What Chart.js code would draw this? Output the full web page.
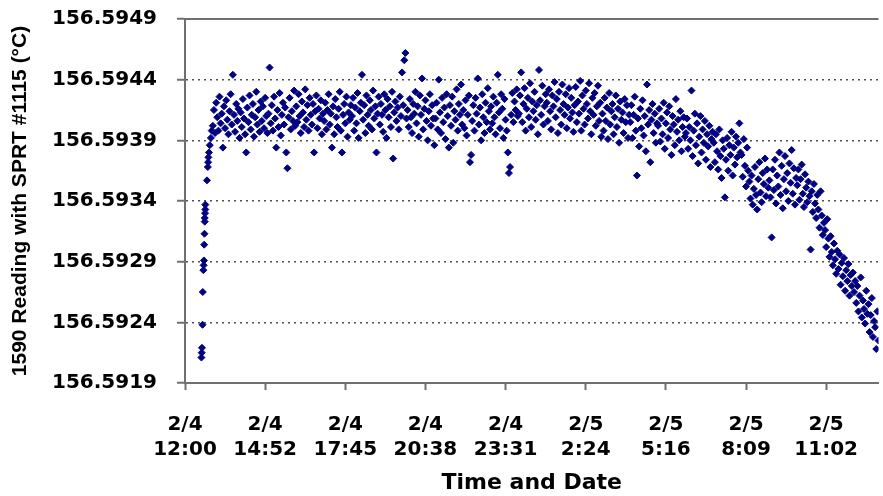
<!DOCTYPE html>
<html>
<head>
<meta charset="utf-8">
<script src="https://cdn.jsdelivr.net/npm/chart.js@4.4.1/dist/chart.umd.min.js"></script>
<style>
  html,body{margin:0;padding:0;background:#fff;}
  #wrap{width:883px;height:496px;position:relative;}
</style>
</head>
<body>
<div id="wrap"><canvas id="chart-sprt" width="883" height="496"></canvas></div>
<script>
/* ---------- Data ---------- */
// readings kept as offsets above 156.5900 °C, in steps of 0.00001 °C
const BASE_C = 156.59;
const UNIT_C = 0.00001;

// warm-up right after start, hours after 2/4 12:00
const warmupHours    = [0.59, 0.60, 0.61, 0.63, 0.64, 0.66, 0.67, 0.68, 0.69, 0.70, 0.71, 0.71, 0.72, 0.73, 0.73, 0.79, 0.82, 0.83, 0.84, 0.86, 0.89, 0.93, 0.96];
const warmupReadings = [211, 215, 219, 238, 265, 283, 287, 291, 304, 313, 323, 326, 330, 333, 337, 357, 368, 372, 376, 380, 386, 392, 398];

// logging, one reading every 0.04 h from 2/4 13:00 (one row = one hour)
const LOG_START_H = 1.0;
const LOG_STEP_H  = 0.04;
const feb4Readings = [
  402,415,396,421,409,398,426,404,412,384,418,400,423,407,395,414,428,403,444,411,397,420,406,416,392, // 13h
  413,401,424,408,395,380,417,405,427,399,411,420,393,409,430,403,415,397,422,406,418,400,425,410,396, // 14h
  412,450,404,419,398,426,408,384,415,401,429,394,411,421,403,417,380,367,409,425,399,414,406,431,402, // 15h
  418,405,428,410,396,422,413,401,432,407,419,398,425,411,403,420,380,414,427,400,416,408,423,395,412, // 16h
  406,421,399,415,428,403,412,384,418,395,424,409,401,416,430,398,380,411,420,404,426,393,413,407,419, // 17h
  410,425,398,417,404,429,392,414,421,444,407,419,396,427,411,402,423,415,399,431,408,418,380,412,426, // 18h
  403,420,411,397,428,415,392,424,409,418,401,430,375,413,422,406,417,399,426,410,446,419,456,462,408, // 19h
  415,401,424,409,396,420,412,430,404,418,393,427,411,441,399,416,423,406,390,414,428,402,419,408,386, // 20h
  408,421,399,440,413,396,425,405,417,391,428,410,384,419,402,426,388,414,407,432,398,420,411,436,403, // 21h
  415,400,423,394,411,427,372,378,406,419,398,425,412,441,403,417,390,428,409,396,421,405,433,414,399, // 22h
  418,404,426,409,395,421,444,413,400,428,416,392,424,407,398,380,363,368,411,429,405,422,415,432,410  // 23h
];
const feb5Readings = [
  412,427,446,405,420,433,398,416,425,409,437,401,422,414,430,407,419,395,448,423,411,435,403,418,428, // 0h
  421,406,432,414,399,427,418,438,409,424,396,430,415,403,436,420,411,428,400,417,433,408,425,413,397, // 1h
  419,434,405,422,412,439,398,427,416,403,431,420,408,437,414,395,425,411,429,402,418,435,406,421,393, // 2h
  412,398,425,406,417,391,429,403,414,420,395,409,427,401,416,388,422,407,413,396,424,405,419,392,411, // 3h
  405,419,392,411,426,398,361,408,385,416,400,423,394,410,381,436,403,415,372,407,420,396,412,388,404, // 4h
  402,416,389,408,395,421,383,404,413,392,418,399,378,410,403,386,424,397,407,390,414,381,401,409,393, // 5h
  396,408,383,401,390,431,377,398,412,386,404,371,393,410,380,399,388,406,374,395,385,402,368,391,397, // 6h
  388,372,395,381,366,399,377,359,390,383,343,374,392,365,386,378,397,361,384,370,393,376,388,404,380, // 7h
  378,360,391,369,352,384,365,356,342,361,337,350,368,345,333,358,372,347,339,363,354,375,344,366,351, // 8h
  357,343,310,366,349,374,338,361,352,380,345,369,334,358,377,348,363,340,371,355,382,346,367,337,359, // 9h
  353,366,341,358,370,346,335,362,351,339,356,344,300,348,331,354,338,326,345,333,318,348,328,312,322, // 10h
  316,302,325,309,294,311,298,287,305,292,280,299,284,296,271,289,278,293,266,283,274,288,262,279,270, // 11h
  281,265,274,256,270,249,262,277,244,258,251,239,266,247,255,232,246,260,228,241,236,218,249,225,211  // 12h
];

// axis labels
const TICK_STEP_H = 2.88;
const xTickDates = ['2/4','2/4','2/4','2/4','2/4','2/5','2/5','2/5','2/5'];
const xTickTimes = ['12:00','14:52','17:45','20:38','23:31','2:24','5:16','8:09','11:02'];
const yTicks = [156.5919, 156.5924, 156.5929, 156.5934, 156.5939, 156.5944, 156.5949];

/* ---------- Build points ---------- */
const logReadings = feb4Readings.concat(feb5Readings);
const points = warmupHours.map((h,i)=>({ x:h, y:BASE_C + warmupReadings[i]*UNIT_C }))
  .concat(logReadings.map((v,i)=>({ x:LOG_START_H + i*LOG_STEP_H, y:BASE_C + v*UNIT_C })));

const AXIS_GREY = '#707070';
const GRID_GREY = '#505050';
const tickFont = { family:'DejaVu Sans', weight:'bold', size:20, lineHeight:1.25 };

// top edge of the plot box
const topBorder = {
  id:'topBorder',
  beforeDatasetsDraw(chart){
    const { ctx, chartArea:a } = chart;
    ctx.save();
    ctx.strokeStyle = AXIS_GREY;
    ctx.lineWidth = 2;
    ctx.beginPath();
    ctx.moveTo(a.left, a.top);
    ctx.lineTo(a.right, a.top);
    ctx.stroke();
    ctx.restore();
  }
};

// software canvas: keeps the thin axis/grid strokes in the snapshot
const canvas = document.getElementById('chart-sprt');
canvas.getContext('2d', { willReadFrequently:true });

new Chart(canvas, {
  type:'scatter',
  data:{ datasets:[{
    data:points,
    pointStyle:'rectRot',
    pointRadius:3.5,
    pointHoverRadius:3.5,
    pointBorderWidth:1,
    backgroundColor:'#000080',
    borderColor:'#000080'
  }]},
  options:{
    responsive:false,
    animation:false,
    devicePixelRatio:1,
    layout:{ padding:{ top:19, right:0, left:0, bottom:0 } },
    plugins:{ legend:{ display:false }, tooltip:{ enabled:false } },
    scales:{
      x:{
        type:'linear',
        min:0, max:24.92,
        afterBuildTicks: s => { s.ticks = xTickDates.map((d,i)=>({ value:i*TICK_STEP_H })); },
        afterFit: s => { s.height = 113; s.paddingLeft = 0; s.paddingRight = 0; },
        ticks:{ autoSkip:false, maxRotation:0, padding:22, color:'#000', font:tickFont,
          callback:(v,i)=>[xTickDates[i], xTickTimes[i]] },
        grid:{ display:true, drawOnChartArea:false, drawTicks:true, tickLength:7, tickWidth:2, tickColor:AXIS_GREY, color:AXIS_GREY },
        border:{ display:true, color:AXIS_GREY, width:2 },
        title:{ display:true, text:'Time and Date', color:'#000',
          font:{ family:'DejaVu Sans', weight:'bold', size:22 }, padding:0 }
      },
      y:{
        min:156.5919, max:156.5949,
        afterBuildTicks: s => { s.ticks = yTicks.map(v=>({ value:v })); },
        afterFit: s => { s.width = 185; s.paddingTop = 0; s.paddingBottom = 0; },
        ticks:{ padding:20, color:'#000', font:{ family:'DejaVu Sans', weight:'bold', size:20 },
          callback:v => Number(v).toFixed(4) },
        grid:{
          display:true,
          color: c => (c.index>0 && c.index<yTicks.length-1) ? GRID_GREY : 'rgba(0,0,0,0)',
          lineWidth:1.5, tickColor:AXIS_GREY, tickWidth:2, tickLength:8
        },
        border:{ display:true, color:AXIS_GREY, width:2, dash:[2,4] },
        title:{ display:true, text:'1590 Reading with SPRT #1115 (°C)', color:'#000',
          font:{ family:'Liberation Sans', weight:'bold', size:21 }, padding:{ top:8, bottom:0 } }
      }
    }
  },
  plugins:[topBorder]
});
</script>
</body>
</html>
